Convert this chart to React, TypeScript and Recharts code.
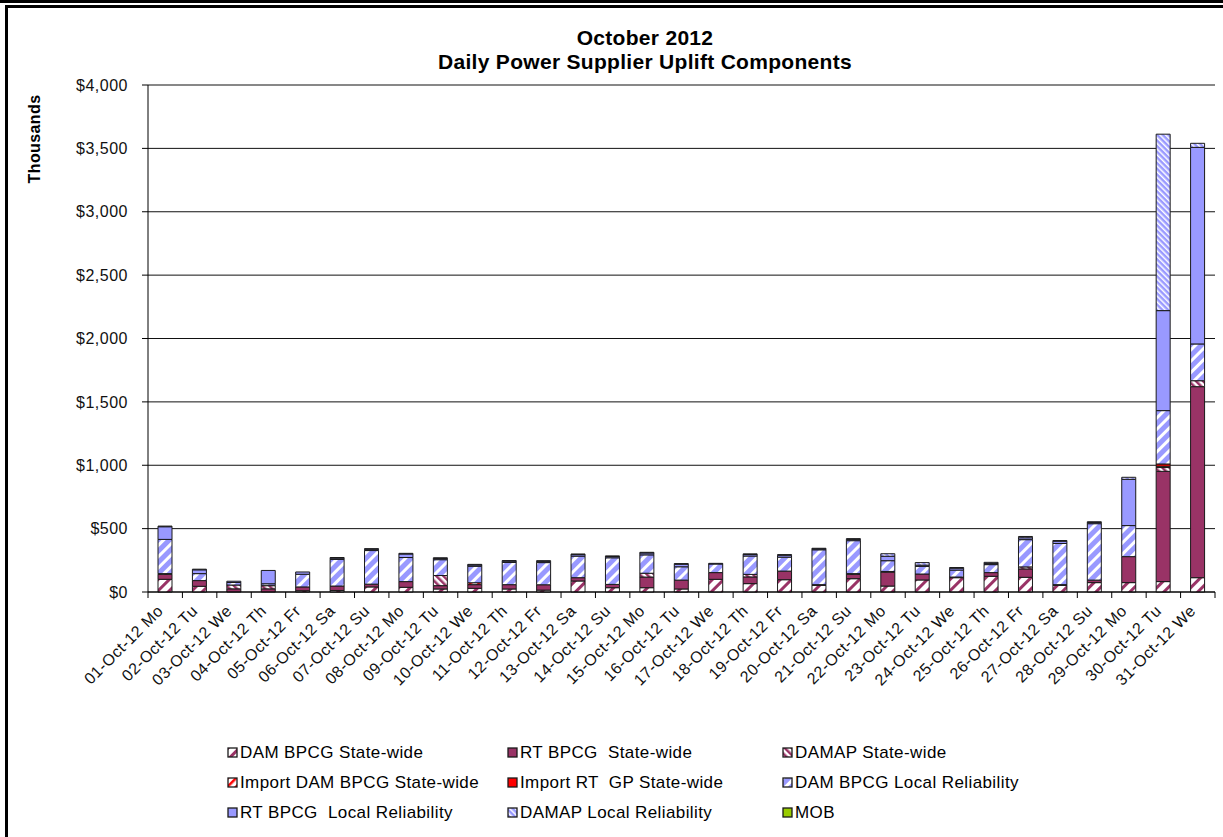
import { BarChart, Bar, XAxis, YAxis, CartesianGrid } from "recharts";

const days = [
  "01-Oct-12 Mo", "02-Oct-12 Tu", "03-Oct-12 We", "04-Oct-12 Th", "05-Oct-12 Fr", "06-Oct-12 Sa", "07-Oct-12 Su",
  "08-Oct-12 Mo", "09-Oct-12 Tu", "10-Oct-12 We", "11-Oct-12 Th", "12-Oct-12 Fr", "13-Oct-12 Sa", "14-Oct-12 Su",
  "15-Oct-12 Mo", "16-Oct-12 Tu", "17-Oct-12 We", "18-Oct-12 Th", "19-Oct-12 Fr", "20-Oct-12 Sa", "21-Oct-12 Su",
  "22-Oct-12 Mo", "23-Oct-12 Tu", "24-Oct-12 We", "25-Oct-12 Th", "26-Oct-12 Fr", "27-Oct-12 Sa", "28-Oct-12 Su",
  "29-Oct-12 Mo", "30-Oct-12 Tu", "31-Oct-12 We",
];

// values in $ thousands
const damBpcgSw = [100, 45, 0, 0, 10, 12, 40, 37, 24, 29, 24, 15, 87, 34, 34, 24, 100, 66, 97, 53, 105, 47, 95, 113, 124, 116, 53, 74, 74, 82, 113];
const rtBpcgSw = [40, 45, 25, 25, 30, 35, 22, 45, 26, 29, 34, 42, 26, 26, 84, 70, 53, 53, 68, 5, 35, 110, 47, 5, 29, 66, 5, 20, 205, 870, 1507];
const damapSw = [5, 0, 30, 25, 0, 0, 0, 0, 80, 0, 0, 0, 0, 0, 30, 0, 0, 20, 0, 0, 5, 5, 0, 0, 0, 16, 0, 0, 0, 30, 47];
const importDamSw = [0, 0, 0, 0, 0, 0, 0, 0, 0, 15, 0, 0, 0, 0, 0, 0, 0, 0, 0, 0, 0, 0, 0, 0, 0, 0, 0, 0, 0, 10, 0];
const importRtGpSw = [0, 0, 0, 0, 0, 0, 0, 0, 0, 0, 0, 0, 0, 0, 0, 0, 0, 0, 0, 0, 0, 0, 0, 0, 0, 0, 0, 0, 0, 18, 0];
const damBpcgLr = [270, 55, 20, 15, 100, 210, 265, 190, 125, 130, 175, 175, 170, 210, 145, 105, 68, 145, 110, 275, 260, 85, 60, 55, 63, 215, 325, 445, 245, 421, 290];
const rtBpcgLr = [100, 30, 10, 105, 18, 10, 10, 28, 10, 10, 10, 10, 12, 10, 15, 20, 5, 12, 15, 7, 10, 35, 10, 15, 8, 15, 18, 10, 365, 789, 1551];
const damapLr = [5, 5, 0, 0, 0, 5, 5, 5, 5, 5, 5, 5, 5, 5, 5, 5, 0, 5, 5, 5, 6, 20, 20, 5, 10, 10, 5, 5, 16, 1392, 32];
const mob = days.map(() => 0);

const yTicks = [0, 500, 1000, 1500, 2000, 2500, 3000, 3500, 4000];

const series = [
  { key: "damBpcgSw", name: "DAM BPCG State-wide", values: damBpcgSw, fill: "url(#pDamSw)" },
  { key: "rtBpcgSw", name: "RT BPCG  State-wide", values: rtBpcgSw, fill: "#993366" },
  { key: "damapSw", name: "DAMAP State-wide", values: damapSw, fill: "url(#pDamapSw)" },
  { key: "importDamSw", name: "Import DAM BPCG State-wide", values: importDamSw, fill: "url(#pImpDam)" },
  { key: "importRtGpSw", name: "Import RT  GP State-wide", values: importRtGpSw, fill: "#ff0000" },
  { key: "damBpcgLr", name: "DAM BPCG Local Reliability", values: damBpcgLr, fill: "url(#pDamLr)" },
  { key: "rtBpcgLr", name: "RT BPCG  Local Reliability", values: rtBpcgLr, fill: "#9999ff" },
  { key: "damapLr", name: "DAMAP Local Reliability", values: damapLr, fill: "url(#pDamapLr)" },
  { key: "mob", name: "MOB", values: mob, fill: "#99cc00" },
];

const rows = days.map((day, i) => {
  const row: Record<string, string | number> = { day };
  series.forEach((s) => (row[s.key] = s.values[i]));
  return row;
});

const FONT = "'Liberation Sans', Arial, sans-serif";
const PLOT_LEFT = 148;
const PLOT_RIGHT = 1215;
const band = (PLOT_RIGHT - PLOT_LEFT) / days.length;

function DayTick(props: any) {
  const { x, y, payload, index } = props;
  const tx = x - 9;
  const ty = y + 12;
  return (
    <g>
      {index === 0 && <line x1={x - band / 2} y1={y} x2={x - band / 2} y2={y + 6} stroke="#000" />}
      <line x1={x + band / 2} y1={y} x2={x + band / 2} y2={y + 6} stroke="#000" />
      <text
        x={tx}
        y={ty}
        transform={`rotate(-45 ${tx} ${ty})`}
        textAnchor="end"
        dominantBaseline="hanging"
        fontSize={16}
        letterSpacing={0.5}
        fontFamily={FONT}
        fill="#111"
      >
        {payload.value}
      </text>
    </g>
  );
}

const legendCols = [227, 507, 782];
const legendRows = [753, 783, 813];

export default function App() {
  return (
    <div style={{ position: "relative", width: 1223, height: 837, background: "#fff", fontFamily: FONT, overflow: "hidden" }}>
      <style>{"body{margin:0}"}</style>
      <div style={{ position: "absolute", left: 0, top: 0, width: 1223, height: 3, background: "#000" }} />
      <div style={{ position: "absolute", left: 5, top: 5, width: 1223, height: 840, borderTop: "3px solid #000", borderLeft: "3px solid #000" }} />

      <div
        style={{
          position: "absolute",
          left: 0,
          width: 1290,
          top: 26,
          textAlign: "center",
          fontSize: 21,
          letterSpacing: 0.3,
          fontWeight: "bold",
          lineHeight: "24px",
          color: "#000",
        }}
      >
        October 2012
        <br />
        Daily Power Supplier Uplift Components
      </div>
      <div
        style={{
          position: "absolute",
          left: 35,
          top: 139,
          transform: "translate(-50%, -50%) rotate(-90deg)",
          fontSize: 16,
          letterSpacing: 0.4,
          fontWeight: "bold",
          whiteSpace: "nowrap",
        }}
      >
        Thousands
      </div>

      <div style={{ position: "absolute", left: 0, top: 0 }}>
        <BarChart width={1223} height={837} data={rows} margin={{ top: 85, right: 8, left: 0, bottom: 215 }} barSize={14}>
          <defs>
            <pattern id="pDamSw" width="8" height="8" patternUnits="userSpaceOnUse" patternTransform="rotate(45)">
              <rect width="8" height="8" fill="#fff" />
              <rect width="3" height="8" fill="#993366" />
            </pattern>
            <pattern id="pDamapSw" width="5" height="5" patternUnits="userSpaceOnUse" patternTransform="rotate(-45)">
              <rect width="5" height="5" fill="#fff" />
              <rect width="2.5" height="5" fill="#993366" />
            </pattern>
            <pattern id="pImpDam" width="6" height="6" patternUnits="userSpaceOnUse" patternTransform="rotate(45)">
              <rect width="6" height="6" fill="#fff" />
              <rect width="2.5" height="6" fill="#ff0000" />
            </pattern>
            <pattern id="pDamLr" width="8" height="8" patternUnits="userSpaceOnUse" patternTransform="rotate(45)">
              <rect width="8" height="8" fill="#9999ff" />
              <rect width="3" height="8" fill="#fff" />
            </pattern>
            <pattern id="pDamapLr" width="4" height="4" patternUnits="userSpaceOnUse" patternTransform="rotate(-45)">
              <rect width="4" height="4" fill="#9999ff" />
              <rect width="1.5" height="4" fill="#fff" />
            </pattern>
          </defs>
          <CartesianGrid vertical={false} stroke="#111" strokeWidth={1} />
          <XAxis dataKey="day" interval={0} height={30} axisLine={{ stroke: "#000" }} tickLine={false} tickSize={0} tickMargin={0} tick={<DayTick />} />
          <XAxis xAxisId="top" dataKey="day" orientation="top" height={0} tick={false} tickLine={false} axisLine={{ stroke: "#999" }} />
          <YAxis
            domain={[0, 4000]}
            ticks={yTicks}
            width={148}
            interval={0}
            axisLine={{ stroke: "#000" }}
            tickLine={{ stroke: "#000" }}
            tickSize={6}
            tickMargin={14}
            tick={{ fontSize: 16, fill: "#111", fontFamily: FONT, letterSpacing: 0.5 }}
            tickFormatter={(v) => `$${Number(v).toLocaleString("en-US")}`}
          />
          <YAxis yAxisId="right" orientation="right" width={0} domain={[0, 4000]} tick={false} tickLine={false} axisLine={{ stroke: "#999" }} />
          {series.map((s) => (
            <Bar key={s.key} dataKey={s.key} name={s.name} stackId="a" fill={s.fill} stroke="#1a1a1a" strokeWidth={1} isAnimationActive={false} />
          ))}
        </BarChart>
      </div>

      {series.map((s, i) => {
        const left = legendCols[i % 3];
        const top = legendRows[Math.floor(i / 3)];
        return (
          <div
            key={s.key}
            style={{
              position: "absolute",
              left,
              top: top - 11,
              height: 22,
              display: "flex",
              alignItems: "center",
              whiteSpace: "pre",
              fontSize: 17,
              letterSpacing: 0.4,
              color: "#000",
            }}
          >
            <svg width={12} height={12} style={{ marginRight: 1 }}>
              <rect x={1} y={1} width={9} height={9} fill={s.fill} stroke="#1a1a1a" strokeWidth={1.3} />
            </svg>
            {s.name}
          </div>
        );
      })}
    </div>
  );
}
